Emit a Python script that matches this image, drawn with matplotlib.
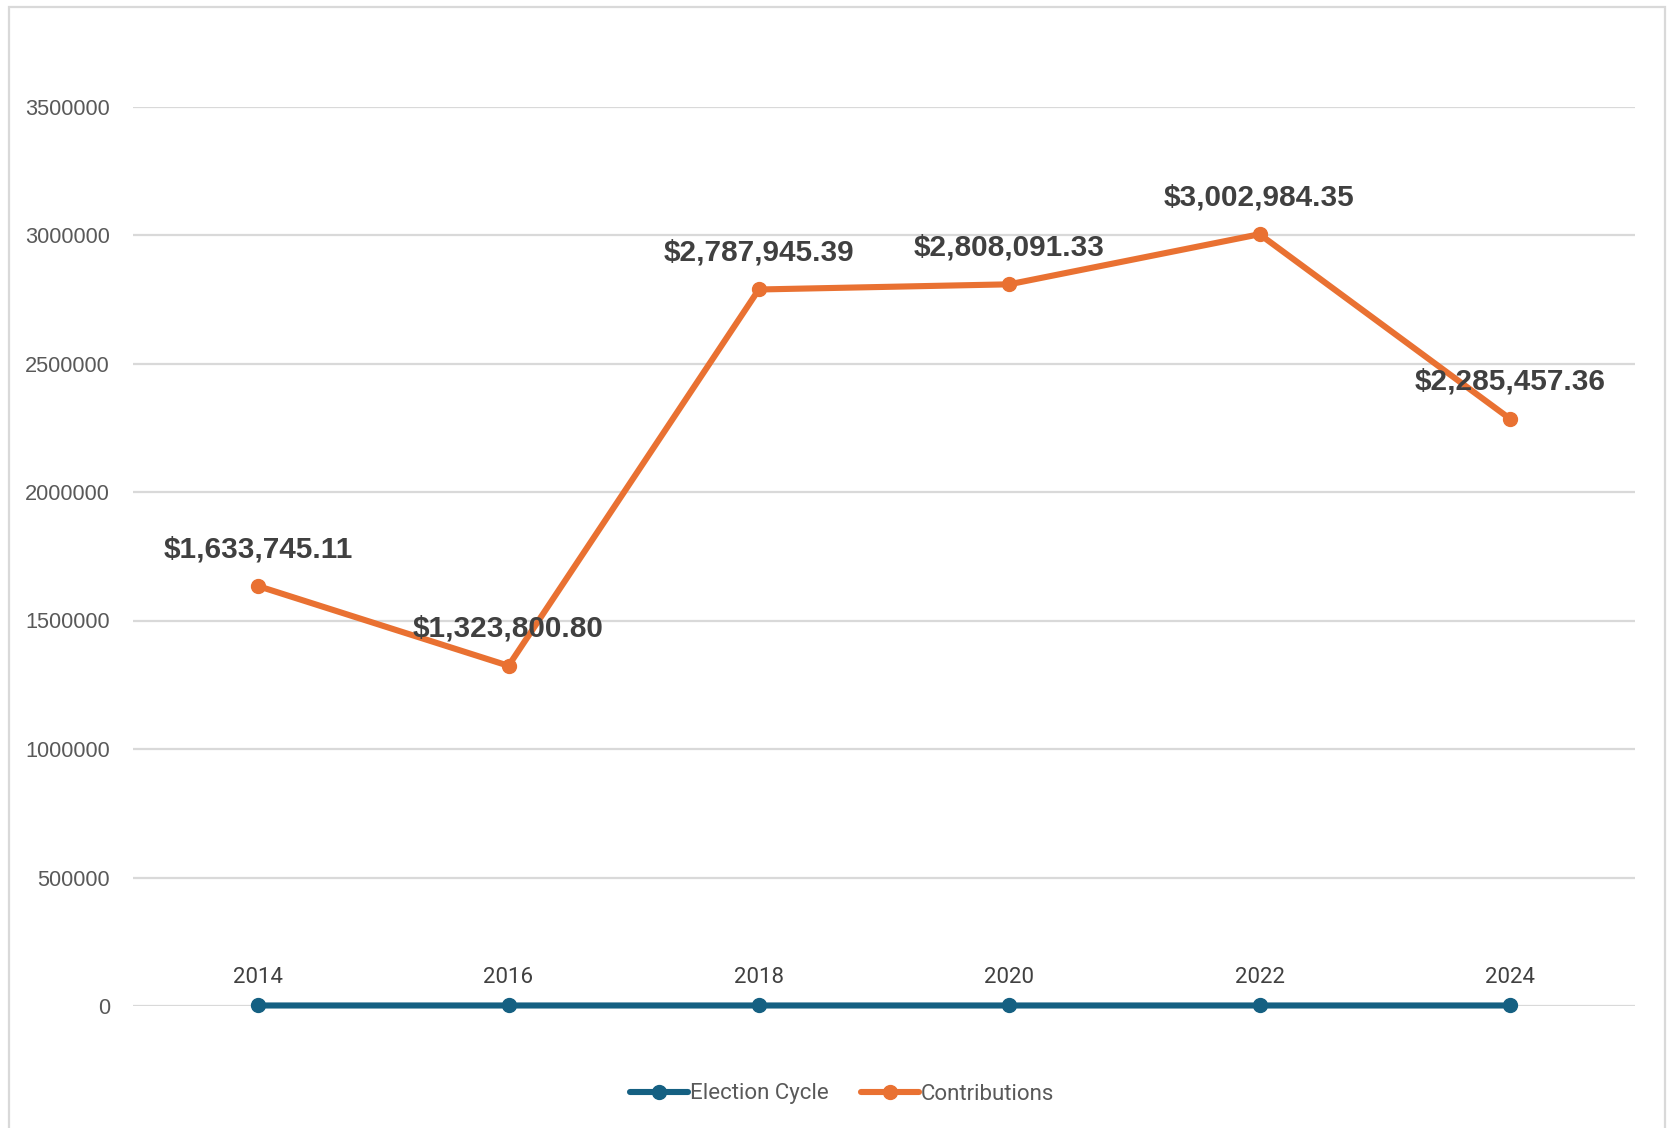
import matplotlib
matplotlib.use("Agg")
import matplotlib.pyplot as plt
from matplotlib.patches import Rectangle

# ---- data ----
cycles = ["2014", "2016", "2018", "2020", "2022", "2024"]
election_cycle = [2014, 2016, 2018, 2020, 2022, 2024]
contributions = [1633745.11, 1323800.80, 2787945.39, 2808091.33, 3002984.35, 2285457.36]
y_ticks = [0, 500000, 1000000, 1500000, 2000000, 2500000, 3000000, 3500000]
series_names = ["Election Cycle", "Contributions"]

BLUE = "#156082"
ORANGE = "#E97132"
GRID = "#D9D9D9"
TICK = "#595959"
LABEL = "#404040"

W, H = 1669, 1128
fig = plt.figure(figsize=(W / 100, H / 100), dpi=100)
fig.patch.set_facecolor("white")

# outer chart border
fig.patches.append(Rectangle((9 / W, -0.05), (1665 - 9) / W, 1.05 - 7 / H,
                             transform=fig.transFigure, fill=False,
                             edgecolor=GRID, linewidth=1.6, zorder=0))

left, right = 133 / W, 1635 / W
top, bottom = 1 - 106.5 / H, 1 - 1006 / H
ax = fig.add_axes([left, bottom, right - left, top - bottom])

x = list(range(len(cycles)))
l1, = ax.plot(x, election_cycle, color=BLUE, linewidth=4.4, marker="o",
              markersize=10, clip_on=False, zorder=3, solid_capstyle="round")
l2, = ax.plot(x, contributions, color=ORANGE, linewidth=4.4, marker="o",
              markersize=10, clip_on=False, zorder=4, solid_capstyle="round")

ax.set_xlim(-0.5, len(cycles) - 0.5)
ax.set_ylim(0, 3500000)
ax.set_yticks(y_ticks)
ax.set_yticklabels([str(v) for v in y_ticks], fontfamily="Liberation Sans",
                   fontsize=15.7, color=TICK)
ax.tick_params(axis="y", length=0, pad=16.5)
ax.set_xticks([])
for s in ax.spines.values():
    s.set_visible(False)
ax.yaxis.grid(True, color=GRID, linewidth=1.6, zorder=0)
ax.set_axisbelow(True)

# data labels: years above the Election Cycle points
for xi, yv, lab in zip(x, election_cycle, cycles):
    ax.annotate(lab, (xi, yv), xytext=(0, 20), textcoords="offset points",
                ha="center", va="center", fontsize=16, color=LABEL,
                fontfamily="Roboto", zorder=6, annotation_clip=False)

# data labels: contributions
for xi, yv in zip(x, contributions):
    ax.annotate("${:,.2f}".format(yv), (xi, yv), xytext=(0, 26.5),
                textcoords="offset points", ha="center", va="center",
                fontsize=21.4, fontweight="bold", color=LABEL,
                fontfamily="Liberation Sans", zorder=6, annotation_clip=False)

leg = fig.legend([l1, l2], series_names, loc="center",
                 bbox_to_anchor=(842 / W, 1 - 1094 / H), ncol=2, frameon=False,
                 prop={"family": "Roboto", "size": 16}, handlelength=2.6,
                 handletextpad=0.1, columnspacing=1.45, borderaxespad=0)
for t in leg.get_texts():
    t.set_color(TICK)

fig.savefig("out.png", dpi=100, facecolor="white")
